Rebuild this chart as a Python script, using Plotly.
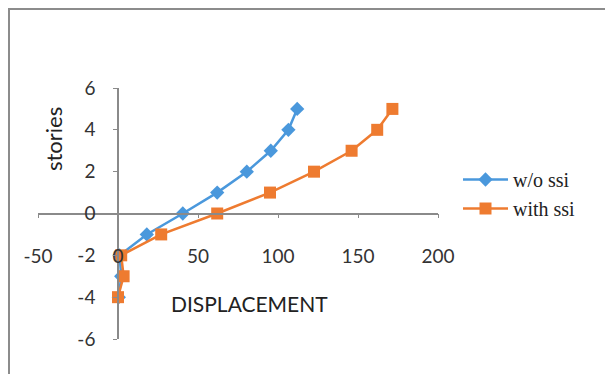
import plotly.graph_objects as go

stories = [5, 4, 3, 2, 1, 0, -1, -2, -3, -4]
disp_wo_ssi = [112, 106.5, 95.5, 80.5, 62, 40.5, 18, 1, 2, 0.5]
disp_with_ssi = [171.5, 162, 146, 122.5, 95, 62, 27, 2, 3.5, 0]

x_ticks = [-50, 0, 50, 100, 150, 200]
x_tick_text = ["-50", "0", "50", "100", "150", "200"]
y_ticks = [-6, -4, -2, 0, 2, 4, 6]
y_tick_text = ["-6", "-4", "-2", "0", "2", "4", "6"]

W, H = 613, 374
OFF = 8  # page offset of the figure (body margin)
L, T = 38 - OFF, 88 - OFF
pw, ph = 400, 251
R = W - L - pw
B = H - T - ph

def px_x(p):
    return (p - OFF - L) / pw

def px_y(p):
    return (T + ph - (p - OFF)) / ph

tick_font = dict(family="Lato, Carlito, Calibri, sans-serif", size=19, color="#333333")

fig = go.Figure()
fig.add_trace(go.Scatter(
    x=disp_wo_ssi, y=stories, mode="lines+markers", name="w/o ssi",
    line=dict(color="#4a98dc", width=2.5),
    marker=dict(symbol="diamond", size=11, color="#4a98dc"),
))
fig.add_trace(go.Scatter(
    x=disp_with_ssi, y=stories, mode="lines+markers", name="with ssi",
    line=dict(color="#ee7b30", width=2.5),
    marker=dict(symbol="square", size=12, color="#ee7b30"),
))

fig.update_layout(
    width=W, height=H,
    margin=dict(l=L, r=R, t=T, b=B, autoexpand=False),
    paper_bgcolor="white", plot_bgcolor="white",
    showlegend=True,
    legend=dict(
        x=px_x(458), y=px_y(160), xanchor="left", yanchor="top",
        font=dict(family="Liberation Serif, Cambria, serif", size=20, color="#222222"),
        tracegroupgap=0, itemwidth=45, bgcolor="rgba(0,0,0,0)",
    ),
    xaxis=dict(
        range=[-50, 200], tickvals=x_ticks, ticktext=x_tick_text,
        showgrid=False, zeroline=False, automargin=False,
        showline=True, linecolor="#8a8a8a", linewidth=1.5,
        ticks="outside", ticklen=4, tickcolor="#8a8a8a",
        anchor="free", position=0.5, tickfont=tick_font,
        ticklabelstandoff=22,
    ),
    yaxis=dict(
        range=[-6, 6], tickvals=y_ticks, ticktext=y_tick_text,
        showgrid=False, zeroline=False, automargin=False,
        showline=True, linecolor="#8a8a8a", linewidth=1.5,
        ticks="outside", ticklen=4, tickcolor="#8a8a8a",
        anchor="free", position=0.2, tickfont=tick_font,
        ticklabelstandoff=14,
    ),
    annotations=[
        dict(text="DISPLACEMENT", x=px_x(249), y=px_y(303), xref="paper", yref="paper",
             xanchor="center", yanchor="middle",
             showarrow=False, font=dict(family="Lato, Carlito, sans-serif", size=21, color="#222222")),
        dict(text="stories", x=px_x(53), y=px_y(139), xref="paper", yref="paper",
             xanchor="center", yanchor="middle",
             showarrow=False, textangle=-90,
             font=dict(family="Lato, Carlito, sans-serif", size=22, color="#222222")),
    ],
    shapes=[
        dict(type="line", xref="paper", yref="paper", x0=px_x(OFF), x1=px_x(660),
             y0=px_y(OFF + 1), y1=px_y(OFF + 1), line=dict(color="#8c8c8c", width=2)),
        dict(type="line", xref="paper", yref="paper", x0=px_x(OFF + 1), x1=px_x(OFF + 1),
             y0=px_y(OFF), y1=px_y(420), line=dict(color="#8c8c8c", width=2)),
    ],
)

fig.write_html("out.html")
